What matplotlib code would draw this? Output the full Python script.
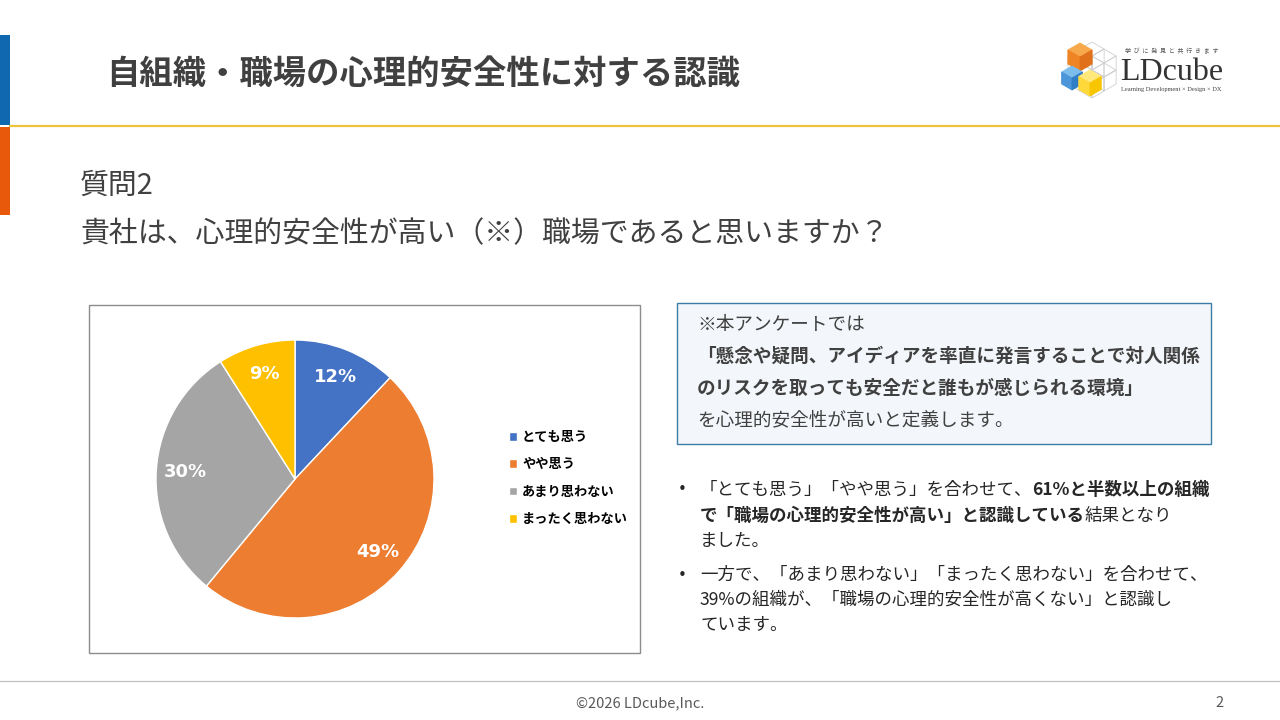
import matplotlib
matplotlib.use("Agg")
import matplotlib.pyplot as plt
from matplotlib.patches import Rectangle, Polygon

JP = ['Noto Sans CJK JP', 'DejaVu Sans']
plt.rcParams['font.family'] = JP

# Survey data (question 2)
answers = ['とても思う', 'やや思う', 'あまり思わない', 'まったく思わない']
shares = [12, 49, 30, 9]
colors = ['#4472C4', '#ED7D31', '#A5A5A5', '#FFC000']

title = '自組織・職場の心理的安全性に対する認識'
question_no = '質問2'
question = '貴社は、心理的安全性が高い（※）職場であると思いますか？'

note_lines = [
    [('※本アンケートでは', False)],
    [('「懸念や疑問、アイディアを率直に発言することで対人関係', True)],
    [('のリスクを取っても安全だと誰もが感じられる環境」', True)],
    [('を心理的安全性が高いと定義します。', False)],
]
bullet1 = [
    [('「とても思う」「やや思う」を合わせて、', False), ('61%と半数以上の組織', True)],
    [('で「職場の心理的安全性が高い」と認識している', True), ('結果となり', False)],
    [('ました。', False)],
]
bullet2 = [
    [('一方で、「あまり思わない」「まったく思わない」を合わせて、', False)],
    [('39%の組織が、「職場の心理的安全性が高くない」と認識し', False)],
    [('ています。', False)],
]

W, H = 1280, 720
fig = plt.figure(figsize=(W / 100, H / 100), dpi=100)
fig.patch.set_facecolor('white')

# full-figure axes in pixel coordinates for the slide decoration
bg = fig.add_axes([0, 0, 1, 1])
bg.set_xlim(0, W)
bg.set_ylim(H, 0)
bg.axis('off')

bg.add_patch(Rectangle((0, 35), 10, 90, color='#1068B0', lw=0))
bg.add_patch(Rectangle((0, 127), 10, 88, color='#E8590C', lw=0))
bg.plot([10, W], [126, 126], color='#EEC43A', lw=1.6)
bg.plot([0, W], [681, 681], color='#C0C0C0', lw=0.9)

bg.text(106, 74, title, fontsize=24, fontweight='bold', color='#404040', va='center')
bg.text(80, 186, question_no, fontsize=20.8, color='#404040', va='center')
bg.text(80, 234, question, fontsize=20.8, color='#404040', va='center')

bg.text(640, 703, '©2026 LDcube,Inc.', fontsize=10.5, color='#595959', ha='center', va='center')
bg.text(1220, 703, '2', fontsize=10.5, color='#595959', ha='center', va='center')


# logo: little isometric cubes + wordmark
def cube(cx, cy, a, top, left, right, edge=None):
    hw = a * 0.866
    T = (cx, cy - a); UR = (cx + hw, cy - a / 2); LR = (cx + hw, cy + a / 2)
    B = (cx, cy + a); LL = (cx - hw, cy + a / 2); UL = (cx - hw, cy - a / 2)
    C = (cx, cy)
    for pts, fc in [([T, UR, C, UL], top), ([UL, C, B, LL], left), ([C, UR, LR, B], right)]:
        bg.add_patch(Polygon(pts, closed=True, fc=fc, ec=edge or fc, lw=0.6))


for cx, cy in [(1092, 56), (1104, 63), (1104, 77), (1080, 63), (1092, 84), (1080, 77)]:
    cube(cx, cy, 14, 'none', 'none', 'none', edge='#D0D0D0')
cube(1080, 57, 14, '#F7A84A', '#EE8424', '#E0701A')
cube(1072, 78, 12, '#7DBDEB', '#4A96D9', '#2F7EC6')
cube(1090, 83, 13, '#FFE97A', '#FFD83A', '#F7C600')

bg.text(1172, 51, '学  び  に  発  見  と  共  行  き  ま  す', fontsize=4.3, color='#555555',
        ha='center', va='center')
bg.text(1120, 72, 'LDcube', fontsize=23, family='Liberation Serif', color='#333333', va='center')
bg.text(1121, 89, 'Learning Development × Design × DX', fontsize=4.6, family='Liberation Serif',
        color='#444444', va='center')

# chart frame
bg.add_patch(Rectangle((89, 305), 551, 348, fc='white', ec='#8C8C8C', lw=1))

# pie chart
r = 139
cx, cy = 295, 479
pax = fig.add_axes([(cx - r) / W, (H - cy - r) / H, 2 * r / W, 2 * r / H])
wedges, _, pcts = pax.pie(shares, colors=colors, startangle=90, counterclock=False,
                          autopct=lambda p: f'{p:.0f}%', pctdistance=0.79,
                          wedgeprops=dict(edgecolor='white', linewidth=1),
                          textprops=dict(color='white', fontsize=13, fontweight='bold',
                                         family='DejaVu Sans'))
pax.set_xlim(-1, 1)
pax.set_ylim(-1, 1)
pax.set_aspect('auto')
pax.axis('off')

fig.legend(wedges, answers, loc='center left', bbox_to_anchor=(497 / W, 1 - 478 / H),
           frameon=False, handlelength=0.65, handleheight=0.65, handletextpad=0.35,
           labelspacing=1.0, prop=dict(family=JP, size=9.5, weight='bold'))

# definition box
bg.add_patch(Rectangle((677, 303), 534, 141, fc='#F3F6FA', ec='#3A7DA6', lw=1))

renderer = fig.canvas.get_renderer()


def rich_line(x, y, parts, size, color):
    for s, bold in parts:
        t = bg.text(x, y, s, fontsize=size, fontweight='bold' if bold else 'normal',
                    color=color, va='center', ha='left')
        x += t.get_window_extent(renderer=renderer).width


for line, y in zip(note_lines, [325, 356, 388, 420]):
    rich_line(697, y, line, 13.4, '#404040')

# bullet notes
for block, ys in [(bullet1, [490, 516, 541]), (bullet2, [575, 600, 625])]:
    bg.text(678, ys[0], '•', fontsize=11, color='#262626', va='center', family='DejaVu Sans')
    for line, y in zip(block, ys):
        rich_line(700, y, line, 12.6, '#262626')

fig.savefig('out.png', dpi=100)
